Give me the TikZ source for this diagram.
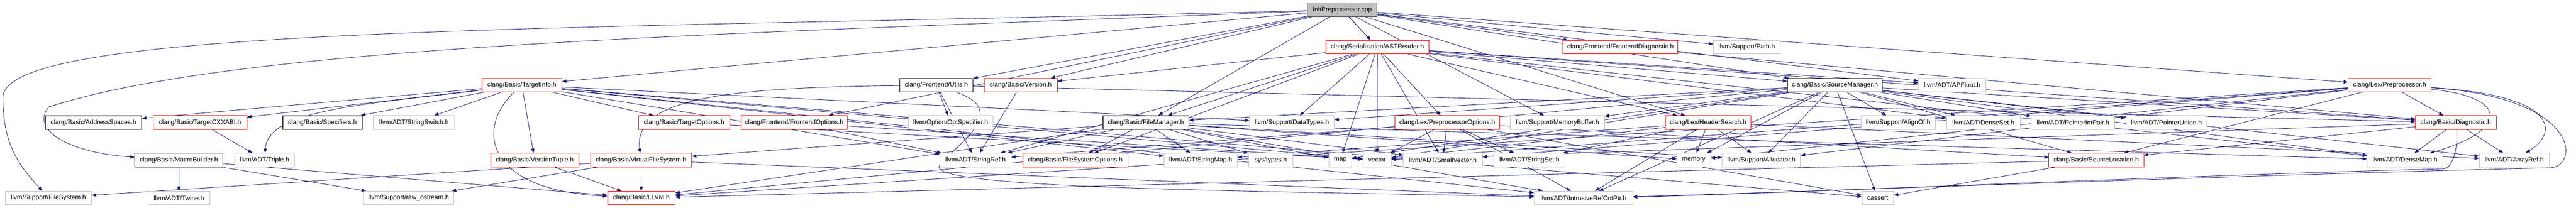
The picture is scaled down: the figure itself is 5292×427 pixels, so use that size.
\documentclass[tikz,border=0pt]{standalone}
\usepackage{fontspec}
\setmainfont{Liberation Sans}
\usetikzlibrary{arrows.meta}
\definecolor{edgeblue}{HTML}{191970}
\definecolor{boxgray}{HTML}{BFBFBF}
\definecolor{boxdark}{HTML}{404040}
\pgfdeclarelayer{edges}
\pgfsetlayers{edges,main}

\begin{document}
\begin{tikzpicture}[x=1pt,y=-1pt,
		hdr/.style={rectangle,draw,fill=white,line width=1pt,minimum height=28pt,inner sep=0pt,
			font=\fontsize{13.3}{15}\selectfont},
		srcfile/.style={hdr,draw=boxdark,fill=boxgray},
		doc/.style={hdr,draw=black},
		docdark/.style={hdr,draw=boxdark,line width=1.6pt},
		cut/.style={hdr,draw=red},
		ext/.style={hdr,draw=boxgray},
		inc/.style={draw=edgeblue,line width=0.9pt,-{Triangle[length=9pt,width=7pt]}}]
			\useasboundingbox (0,0) rectangle (5292,427);
			\node[srcfile,minimum width=143pt] (IP) at (2757.5,20) {InitPreprocessor.cpp};
			\node[cut,minimum width=211pt] (AR) at (2829.5,97) {clang/Serialization/ASTReader.h};
			\node[cut,minimum width=236pt] (FD) at (3329,97) {clang/Frontend/FrontendDiagnostic.h};
			\node[ext,minimum width=137pt] (Path) at (3588.5,97) {llvm/Support/Path.h};
			\node[cut,minimum width=164pt] (TI) at (1072,175) {clang/Basic/TargetInfo.h};
			\node[doc,minimum width=151pt] (FU) at (1923.5,175) {clang/Frontend/Utils.h};
			\node[cut,minimum width=150pt] (Ver) at (2097,175) {clang/Basic/Version.h};
			\node[doc,minimum width=195pt] (SM) at (3769.5,175) {clang/Basic/SourceManager.h};
			\node[ext,minimum width=139pt] (APF) at (4010.5,175) {llvm/ADT/APFloat.h};
			\node[cut,minimum width=170pt] (PP) at (4909,175) {clang/Lex/Preprocessor.h};
			\node[docdark,minimum width=198pt] (AS) at (192,252) {clang/Basic/AddressSpaces.h};
			\node[cut,minimum width=192pt] (TCX) at (411,252) {clang/Basic/TargetCXXABI.h};
			\node[docdark,minimum width=163pt] (Spec) at (662.5,252) {clang/Basic/Specifiers.h};
			\node[ext,minimum width=167pt] (SSw) at (850.5,252) {llvm/ADT/StringSwitch.h};
			\node[cut,minimum width=187pt] (TO) at (1405.5,252) {clang/Basic/TargetOptions.h};
			\node[cut,minimum width=219pt] (FO) at (1631.5,252) {clang/Frontend/FrontendOptions.h};
			\node[ext,minimum width=174pt] (OptS) at (1953,252) {llvm/Option/OptSpecifier.h};
			\node[docdark,minimum width=176pt] (FM) at (2354,252) {clang/Basic/FileManager.h};
			\node[ext,minimum width=174pt] (DT) at (2654,252) {llvm/Support/DataTypes.h};
			\node[cut,minimum width=214pt] (PO) at (2973,252) {clang/Lex/PreprocessorOptions.h};
			\node[ext,minimum width=193pt] (MB) at (3199.5,252) {llvm/Support/MemoryBuffer.h};
			\node[cut,minimum width=176pt] (HS) at (3509,252) {clang/Lex/HeaderSearch.h};
			\node[ext,minimum width=153pt] (AO) at (3899.5,252) {llvm/Support/AlignOf.h};
			\node[ext,minimum width=151pt] (DS) at (4074.5,252) {llvm/ADT/DenseSet.h};
			\node[ext,minimum width=171pt] (PIP) at (4258.5,252) {llvm/ADT/PointerIntPair.h};
			\node[ext,minimum width=167pt] (PU) at (4450.5,252) {llvm/ADT/PointerUnion.h};
			\node[cut,minimum width=166pt] (DG) at (5045,252) {clang/Basic/Diagnostic.h};
			\node[doc,minimum width=181pt] (MBld) at (367.5,329) {clang/Basic/MacroBuilder.h};
			\node[ext,minimum width=123pt] (Tri) at (543.5,329) {llvm/ADT/Triple.h};
			\node[cut,minimum width=181pt] (VT) at (1098.5,329) {clang/Basic/VersionTuple.h};
			\node[cut,minimum width=208pt] (VFS) at (1317,329) {clang/Basic/VirtualFileSystem.h};
			\node[ext,minimum width=146pt] (SR) at (2004,329) {llvm/ADT/StringRef.h};
			\node[cut,minimum width=216pt] (FSO) at (2209,329) {clang/Basic/FileSystemOptions.h};
			\node[ext,minimum width=151pt] (SMap) at (2466.5,329) {llvm/ADT/StringMap.h};
			\node[ext,minimum width=91pt] (SysT) at (2610.5,329) {sys/types.h};
			\node[ext,minimum width=47pt] (Map) at (2753.5,329) {map};
			\node[ext,minimum width=58pt] (Vec) at (2829,329) {vector};
			\node[ext,minimum width=162pt] (SV) at (2964,329) {llvm/ADT/SmallVector.h};
			\node[ext,minimum width=146pt] (SSet) at (3142,329) {llvm/ADT/StringSet.h};
			\node[ext,minimum width=69pt] (Mem) at (3479.5,329) {memory};
			\node[ext,minimum width=161pt] (Alloc) at (3618.5,329) {llvm/Support/Allocator.h};
			\node[cut,minimum width=195pt] (SL) at (4306.5,329) {clang/Basic/SourceLocation.h};
			\node[ext,minimum width=155pt] (DM) at (4940.5,329) {llvm/ADT/DenseMap.h};
			\node[ext,minimum width=144pt] (ARef) at (5165,329) {llvm/ADT/ArrayRef.h};
			\node[ext,minimum width=177pt] (FS) at (99.5,407) {llvm/Support/FileSystem.h};
			\node[ext,minimum width=127pt] (Tw) at (367.5,407) {llvm/ADT/Twine.h};
			\node[ext,minimum width=185pt] (RO) at (839.5,407) {llvm/Support/raw\_ostream.h};
			\node[cut,minimum width=139pt] (LLVM) at (1317.5,407) {clang/Basic/LLVM.h};
			\node[ext,minimum width=202pt] (IRC) at (3253,407) {llvm/ADT/IntrusiveRefCntPtr.h};
			\node[ext,minimum width=65pt] (CA) at (3857.5,407) {cassert};
			\begin{pgfonlayer}{edges}
			\foreach \t in {FU,FM,SM,TI,Ver,FD,FO,HS,PP,PO,AR,APF,MB,Path}
				\draw[inc] (IP) -- (\t);
			\draw[inc] (IP) .. controls (1200,62) and (8,50) .. (6,200) .. controls (6,300) and (40,340) .. (FS);
			\draw[inc] (IP) .. controls (1500,70) and (500,90) .. (100,220) .. controls (60,270) and (150,315) .. (MBld);
			\foreach \t in {Ver,FM,FSO,SR,DT,Map,Vec,SV,SM,HS,DG,DS,APF,DM}
				\draw[inc] (AR) -- (\t);
			\foreach \t in {AS,TCX,Spec,SSw,VT,TO,SR,DT,SMap,IRC,CA,Vec}
				\draw[inc] (TI) -- (\t);
			\draw[inc] (TI) .. controls (750,215) and (550,225) .. (Tri);
			\draw[inc] (TI) .. controls (980,260) and (990,390) .. (LLVM);
			\draw[inc] (TCX) -- (Tri);
			\foreach \t in {Tw,RO,LLVM}
				\draw[inc] (MBld) -- (\t);
			\draw[inc] (VT) -- (LLVM);
			\foreach \t in {LLVM,FS,RO,IRC}
				\draw[inc] (VFS) -- (\t);
			\draw[inc] (TO) -- (Vec);
			\draw[inc] (FO) -- (SR);
			\draw[inc] (FO) -- (Vec);
			\foreach \t in {OptS,SR,DG}
				\draw[inc] (FU) -- (\t);
			\draw[inc] (FU) .. controls (1500,180) and (1300,200) .. (VFS);
			\draw[inc] (FU) .. controls (2080,230) and (1960,300) .. (1930,340) .. controls (1900,390) and (2600,392) .. (IRC);
			\draw[inc] (Ver) -- (SR);
			\foreach \t in {FSO,VFS,SR,SMap,SysT,Map,SV,DM,IRC,Alloc,Mem,LLVM}
				\draw[inc] (FM) -- (\t);
			\foreach \t in {FM,DT,MB,AO,DS,PIP,PU,DG,SL,DM,ARef,IRC,Alloc,CA,Map,Mem,Vec,LLVM}
				\draw[inc] (SM) -- (\t);
			\foreach \t in {DG,SL,SV,Alloc,Mem,Vec,LLVM}
				\draw[inc] (PP) -- (\t);
			\draw[inc] (PP) .. controls (5160,200) and (5150,270) .. (DM);
			\draw[inc] (PP) .. controls (5250,195) and (5260,270) .. (ARef);
			\draw[inc] (PP) .. controls (5300,200) and (5300,340) .. (5240,345) .. controls (4600,360) and (3700,395) .. (IRC);
			\foreach \t in {SL,DM,ARef,Vec}
				\draw[inc] (DG) -- (\t);
			\draw[inc] (DG) .. controls (5050,300) and (5040,345) .. (5020,347) .. controls (4500,360) and (3600,400) .. (IRC);
			\foreach \t in {SMap,SSet,Mem,Alloc,Vec,ARef,IRC}
				\draw[inc] (HS) -- (\t);
			\foreach \t in {SR,SV,Vec,SSet,SL,CA,IRC}
				\draw[inc] (PO) -- (\t);
			\draw[inc] (FD) -- (DG);
			\draw[inc] (SL) -- (LLVM);
			\draw[inc] (SL) -- (CA);
			\end{pgfonlayer}
		\end{tikzpicture}
\end{document}
